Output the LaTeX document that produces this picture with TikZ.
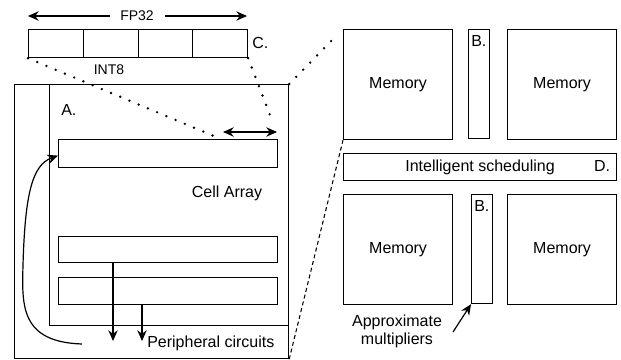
\documentclass[tikz,border=0pt]{standalone}
\usepackage{fontspec}
\setmainfont{Liberation Sans}
\usetikzlibrary{arrows.meta,calc}
\begin{document}
\begin{tikzpicture}[x=0.75pt,y=-0.75pt,
  ln/.style={line width=0.9pt},
  box/.style n args={2}{draw,ln,inner sep=0pt,anchor=north west,
     minimum width=#1*0.75pt,minimum height=#2*0.75pt,font=\fontsize{12}{14}\selectfont},
  lbl/.style={inner sep=0pt,font=\fontsize{12}{14}\selectfont},
  small/.style={inner sep=0pt,font=\fontsize{10.5}{12}\selectfont},
  arr/.style={ln,-{Stealth[length=8pt,width=7pt]}},
  darr/.style={ln,{Stealth[length=8pt,width=7pt]}-{Stealth[length=8pt,width=7pt]}},
  dots/.style={line width=2pt,line cap=round,dash pattern=on 0pt off 7.5pt},
  dsh/.style={line width=0.8pt,dash pattern=on 3pt off 2.2pt}]
\useasboundingbox (0,0) rectangle (621,360);

% register
\node[box={54.75}{28}] (r1) at (28,29) {};
\node[box={54.75}{28}] (r2) at (82.75,29) {};
\node[box={54.75}{28}] (r3) at (137.5,29) {};
\node[box={54.75}{28}] (r4) at (192.25,29) {};
\node[small] (fp) at (137,16) {FP32};
\coordinate (fpl) at (28,16);
\coordinate (fpr) at (247,16);
\coordinate (fpa) at (110,16);
\coordinate (fpb) at (165,16);
\draw[arr] (fpa) -- (fpl);
\draw[arr] (fpb) -- (fpr);
\node[lbl,anchor=west] (c) at (252,43) {C.};
\node[small] (int) at (109,70) {INT8};

% outer block
\node[box={274}{274}] (outer) at (14,84) {};
\coordinate (i1) at (49.5,84);
\coordinate (i2) at (49.5,325.5);
\coordinate (i3) at (288,325.5);
\draw[ln] (i1) -- (i2) -- (i3);
\node[lbl,anchor=west] (a) at (61,110) {A.};
\node[box={219}{28}] (row1) at (58,139) {};
\coordinate (da) at (223,132);
\coordinate (db) at (277,132);
\draw[darr] (da) -- (db);
\node[lbl] (cell) at (227,193) {Cell Array};
\node[box={219}{26}] (row2) at (58,236) {};
\node[box={219}{27}] (row3) at (58,277) {};
\coordinate (t1) at (113,341);
\coordinate (t2) at (142,341);
\draw[arr] (t1 |- row2.south) -- (t1);
\draw[arr] (t2 |- row3.south) -- (t2);
\node[lbl,anchor=west] (per) at (147,343) {Peripheral circuits};
\coordinate (cs) at (82,344);
\draw[arr] (cs) .. controls (20,342) and (22,305) .. (23,265)
   .. controls (25,195) and (32,165) .. ($(row1.west)+(0,2)$);

% zoom lines
\coordinate (z1) at (221,139);
\coordinate (z2) at (273,123);
\draw[dots] (r1.south west) -- (z1);
\draw[dots] (r4.south east) -- (z2);

% right side
\node[box={109}{110}] (m1) at (343,29) {Memory};
\node[box={21}{109}] (b1) at (468,29) {};
\node[lbl,anchor=north west] (bl1) at ($(b1.north west)+(3,6)$) {B.};
\node[box={109}{110}] (m2) at (507,29) {Memory};
\node[box={273}{27}] (sch) at (343,153) {Intelligent scheduling};
\node[lbl] (d) at (602,166) {D.};
\node[box={109}{110}] (m3) at (343,194) {Memory};
\node[box={21}{109}] (b2) at (471,194) {};
\node[lbl,anchor=north west] (bl2) at ($(b2.north west)+(3,6)$) {B.};
\node[box={109}{110}] (m4) at (507,194) {Memory};
\node[lbl,align=center,font=\fontsize{12}{13.5}\selectfont] (am) at (397,331) {Approximate\\multipliers};
\coordinate (as) at (453,332);
\draw[arr] (as) -- (b2.south west);

\draw[dots] (outer.north east) -- ($(m1.north west)+(-6,6)$);
\draw[dsh] (outer.south east) -- (m1.south west);
\end{tikzpicture}
\end{document}
